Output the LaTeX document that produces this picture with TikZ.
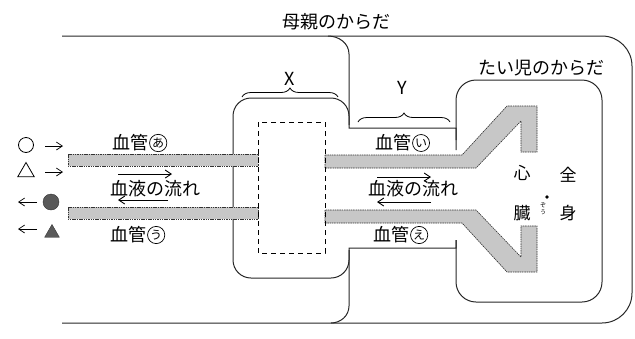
\documentclass[tikz,border=0pt]{standalone}
\usepackage{fontspec}
\newfontfamily\jpfont{Noto Sans CJK JP}
\usetikzlibrary{arrows.meta,positioning,decorations.pathreplacing,shapes.geometric}

\tikzset{
  outline/.style={line width=1pt, black!85},
  vessel/.style={fill=black!22, draw=black!80, line width=0.6pt, dash pattern=on 1.5pt off 0.8pt},
  lbl/.style={font=\jpfont\fontsize{18}{18}\selectfont, inner sep=0pt},
  maru/.style={circle, draw, line width=0.7pt, inner sep=0.6pt, minimum size=17pt, font=\jpfont\fontsize{12}{12}\selectfont},
  flow/.style={-{Straight Barb[length=6pt,width=8pt]}, line width=0.9pt},
  brc/.style={decorate, decoration={brace, amplitude=9pt}, line width=0.8pt},
  ruby/.style={inner sep=0pt, font=\jpfont\fontsize{6}{6}\selectfont},
}

\begin{document}
\begin{tikzpicture}[x=1pt,y=-1pt]
  \useasboundingbox (0,0) rectangle (635,338);
  % mother's body
  \draw[outline, rounded corners=30pt] (62,36) -- (632,36) -- (632,323) -- (62,323);
  % cord and fetus
  \draw[outline] (328,36) to[out=0,in=90] (349,54) -- (349,128) -- (456,128) -- (456,150);
  \draw[outline, rounded corners=20pt] (456,140) -- (456,80) -- (602,80) -- (602,302) -- (456,302) -- (456,240);
  \draw[outline] (456,240) -- (456,248) -- (349,248) -- (349,306) to[out=-90,in=0] (331,323);
  % placenta
  \draw[outline, rounded corners=18pt] (349,125) -- (349,98) -- (233,98) -- (233,278) -- (349,278) -- (349,250);
  % vessels
  \draw[vessel] (68,154) rectangle (258,166);
  \draw[vessel] (68,207) rectangle (258,219);
  \draw[vessel] (325,155) -- (462,155) -- (507,106) -- (537,106) -- (537,152) -- (521,152)
    -- (521,121) -- (476,168) -- (325,168) -- cycle;
  \draw[vessel] (325,223) -- (462,223) -- (507,272) -- (537,272) -- (537,226) -- (521,226)
    -- (521,257) -- (476,210) -- (325,210) -- cycle;
  \draw[line width=0.8pt, dash pattern=on 5pt off 4pt] (258,122) rectangle (325,253);

  % titles
  \node[lbl] (mother) at (336,22) {母親のからだ};
  \node[lbl] (fetus) at (541,68) {たい児のからだ};
  \node[lbl] (labX) at (290,79) {X};
  \node[lbl] (labY) at (402,88) {Y};
  \draw[brc] (242,97) -- (338,97);
  \draw[brc] (358,122) -- (450,122);

  % vessel labels
  \node[lbl] (kanA) at (130,143) {血管};
  \node[maru, right=1pt of kanA] (maruA) {あ};
  \node[lbl] (kanI) at (393,143) {血管};
  \node[maru, right=1pt of kanI] (maruI) {い};
  \node[lbl] (kanU) at (128,235) {血管};
  \node[maru, right=1pt of kanU] (maruU) {う};
  \node[lbl] (kanE) at (391,235) {血管};
  \node[maru, right=1pt of kanE] (maruE) {え};

  % blood flow
  \node[lbl] (flowL) at (155,189) {血液の流れ};
  \node[lbl] (flowR) at (413,189) {血液の流れ};
  \draw[flow] (118,174) -- (172,174);
  \draw[flow] (168,200) -- (118,200);
  \draw[flow] (377,177) -- (431,177);
  \draw[flow] (431,202) -- (377,202);

  % heart and body
  \node[lbl, font=\jpfont\fontsize{17}{17}\selectfont] (shin) at (522,173) {心};
  \node[lbl, font=\jpfont\fontsize{17}{17}\selectfont] (zou) at (522,213) {臓};
  \node[ruby] (ruZo) at (543,205) {ぞ};
  \node[ruby, below=1.5pt of ruZo] (ruU) {う};
  \fill (547,197) circle (1.8);
  \node[lbl, font=\jpfont\fontsize{17}{17}\selectfont] (zen) at (568,175) {全};
  \node[lbl, font=\jpfont\fontsize{17}{17}\selectfont] (shinB) at (568,213) {身};

  % legend
  \node[circle, draw, line width=0.8pt, minimum size=15pt, inner sep=0] (oWhite) at (26,145) {};
  \node[regular polygon, regular polygon sides=3, draw, line width=0.8pt, minimum size=19pt, inner sep=0] (tWhite) at (26,172) {};
  \node[circle, fill=black!65, draw=black!80, minimum size=16pt, inner sep=0] (oDark) at (51,202) {};
  \node[regular polygon, regular polygon sides=3, fill=black!65, draw=black!80, minimum size=17pt, inner sep=0] (tDark) at (52,233) {};
  \draw[flow, line width=0.7pt] (45,146) -- (63,146);
  \draw[flow, line width=0.7pt] (45,172) -- (63,172);
  \draw[flow, line width=0.7pt] (37,202) -- (18,202);
  \draw[flow, line width=0.7pt] (37,229) -- (18,229);
\end{tikzpicture}
\end{document}
